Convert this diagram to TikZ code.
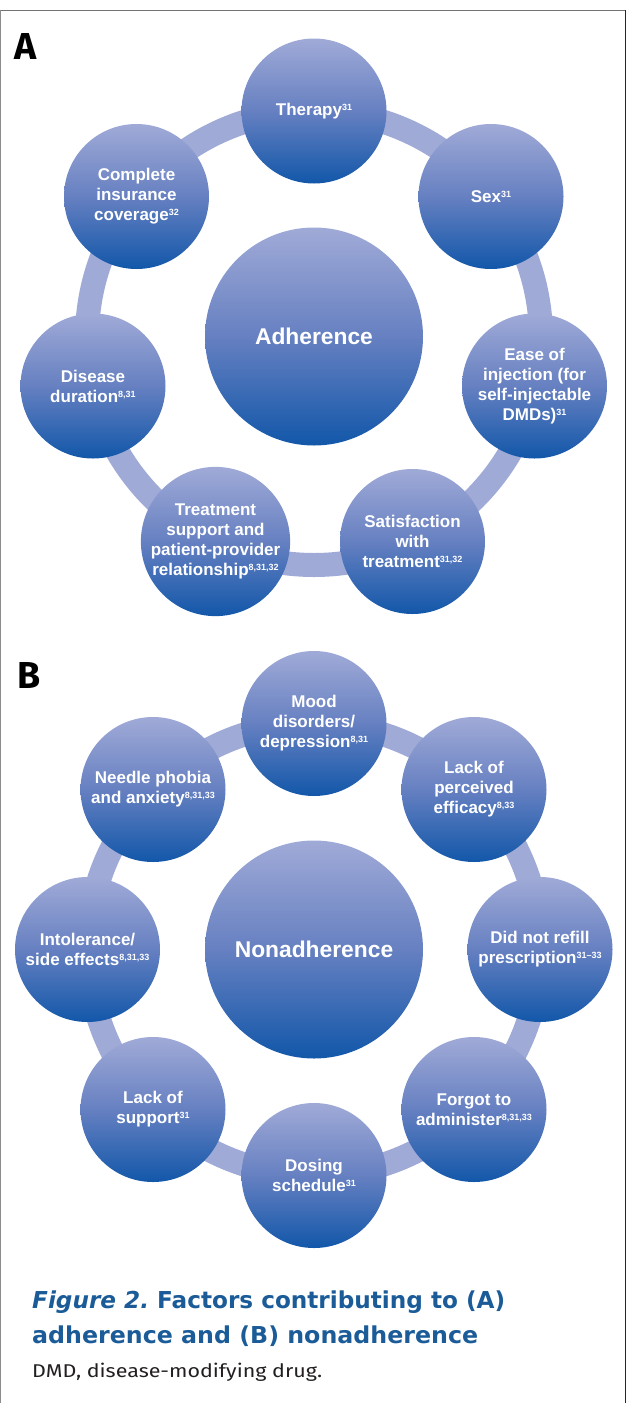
\documentclass[tikz,border=0pt]{standalone}
\usepackage{fontspec}
\setmainfont{Liberation Sans}
\newfontfamily\capfont{Fira Sans}
\newfontfamily\capbold{DejaVu Sans}
\definecolor{ringc}{HTML}{9FAAD6}
\definecolor{ctop}{HTML}{A0AAD7}
\definecolor{cmid}{HTML}{6680C1}
\definecolor{cbot}{HTML}{1257A9}
\definecolor{capblue}{HTML}{1B5C98}
\definecolor{notec}{HTML}{231F20}
\newcommand\sref[1]{\raisebox{5pt}{\fontsize{9}{9}\selectfont #1}}
\newcommand\fitw[2]{\setbox0=\hbox{#2}\dimen0=\wd0\pgfmathsetmacro\fitsc{#1/\the\dimen0}\scalebox{\fitsc}[1]{\box0}}
\tikzset{
  factor/.style={circle, minimum size=145pt, inner sep=0pt, top color=ctop, bottom color=cbot, middle color=cmid, text=white, align=center, font=\fontsize{17}{20}\selectfont\bfseries},
  core/.style={factor, minimum size=218pt, font=\fontsize{22.8}{26}\selectfont\bfseries},
  ringline/.style={draw=ringc, line width=24pt},
  panel/.style={anchor=base west, font=\capfont\bfseries\fontsize{37.5}{40}\selectfont, text=black, inner sep=0pt},
  captxt/.style={anchor=base west, font=\capbold\bfseries\fontsize{23.3}{30}\selectfont, text=capblue, inner sep=0pt},
  notetxt/.style={anchor=base west, font=\capfont\fontsize{18.5}{22}\selectfont, text=notec, inner sep=0pt},
  frame/.style={line width=1.4pt}
}
\begin{document}
\begin{tikzpicture}[x=1pt,y=-1pt]
\useasboundingbox (0,0) rectangle (630,1403);
% frame
\draw[frame, draw=black!55] (0,10.5) -- (626,10.5);
\draw[frame, draw=black!85] (625.5,10) -- (625.5,1403);
\draw[line width=1pt, draw=black!45] (0.5,10) -- (0.5,1403);
% panel A
\node[panel] (labA) at (14,59) {A};
\coordinate (ringA) at (314,338);
\draw[ringline] (ringA) circle[radius=227pt];
\node[core] (adh) at (314,336.5) {Adherence};
\node[factor] (a1) at (314,111) {Therapy\sref{31}};
\node[factor] (a2) at (491,196.5) {Sex\sref{31}};
\node[factor] (a3) at (534.5,386) {Ease of\\injection (for\\self-injectable\\DMDs)\sref{31}};
\node[factor] (a4) at (412.5,541.5) {Satisfaction\\with\\treatment\sref{31,32}};
\node[factor] (a5) at (215.5,541.5) {Treatment\\support and\\patient-provider\\relationship\sref{8,31,32}};
\node[factor] (a6) at (93,386) {Disease\\duration\sref{8,31}};
\node[factor] (a7) at (136.5,196.5) {Complete\\insurance\\coverage\sref{32}};
% panel B
\node[panel] (labB) at (17,688) {B};
\coordinate (ringB) at (314,949.5);
\draw[ringline] (ringB) circle[radius=226pt];
\node[core] (nonadh) at (314,949.5) {Nonadherence};
\node[factor] (b1) at (314,723.5) {Mood\\disorders/\\depression\sref{8,31}};
\node[factor] (b2) at (474,789.5) {Lack of\\perceived\\efficacy\sref{8,33}};
\node[factor] (b3) at (540,949.5) {Did not refill\\prescription\sref{31--33}};
\node[factor] (b4) at (474,1109.5) {Forgot to\\administer\sref{8,31,33}};
\node[factor] (b5) at (314,1175.5) {Dosing\\schedule\sref{31}};
\node[factor] (b6) at (153,1109.5) {Lack of\\support\sref{31}};
\node[factor] (b7) at (87.5,949.5) {Intolerance/\\side effects\sref{8,31,33}};
\node[factor] (b8) at (153,789.5) {Needle phobia\\and anxiety\sref{8,31,33}};
% caption
\node[captxt] (cap1) at (32,1308) {\fitw{473}{\itshape Figure 2.\upshape\ Factors contributing to (A)}};
\node[captxt] (cap2) at (32,1343) {\fitw{446}{adherence and (B) nonadherence}};
\node[notetxt] (note) at (32,1377) {\fitw{290}{DMD, disease-modifying drug.}};
\end{tikzpicture}
\end{document}
